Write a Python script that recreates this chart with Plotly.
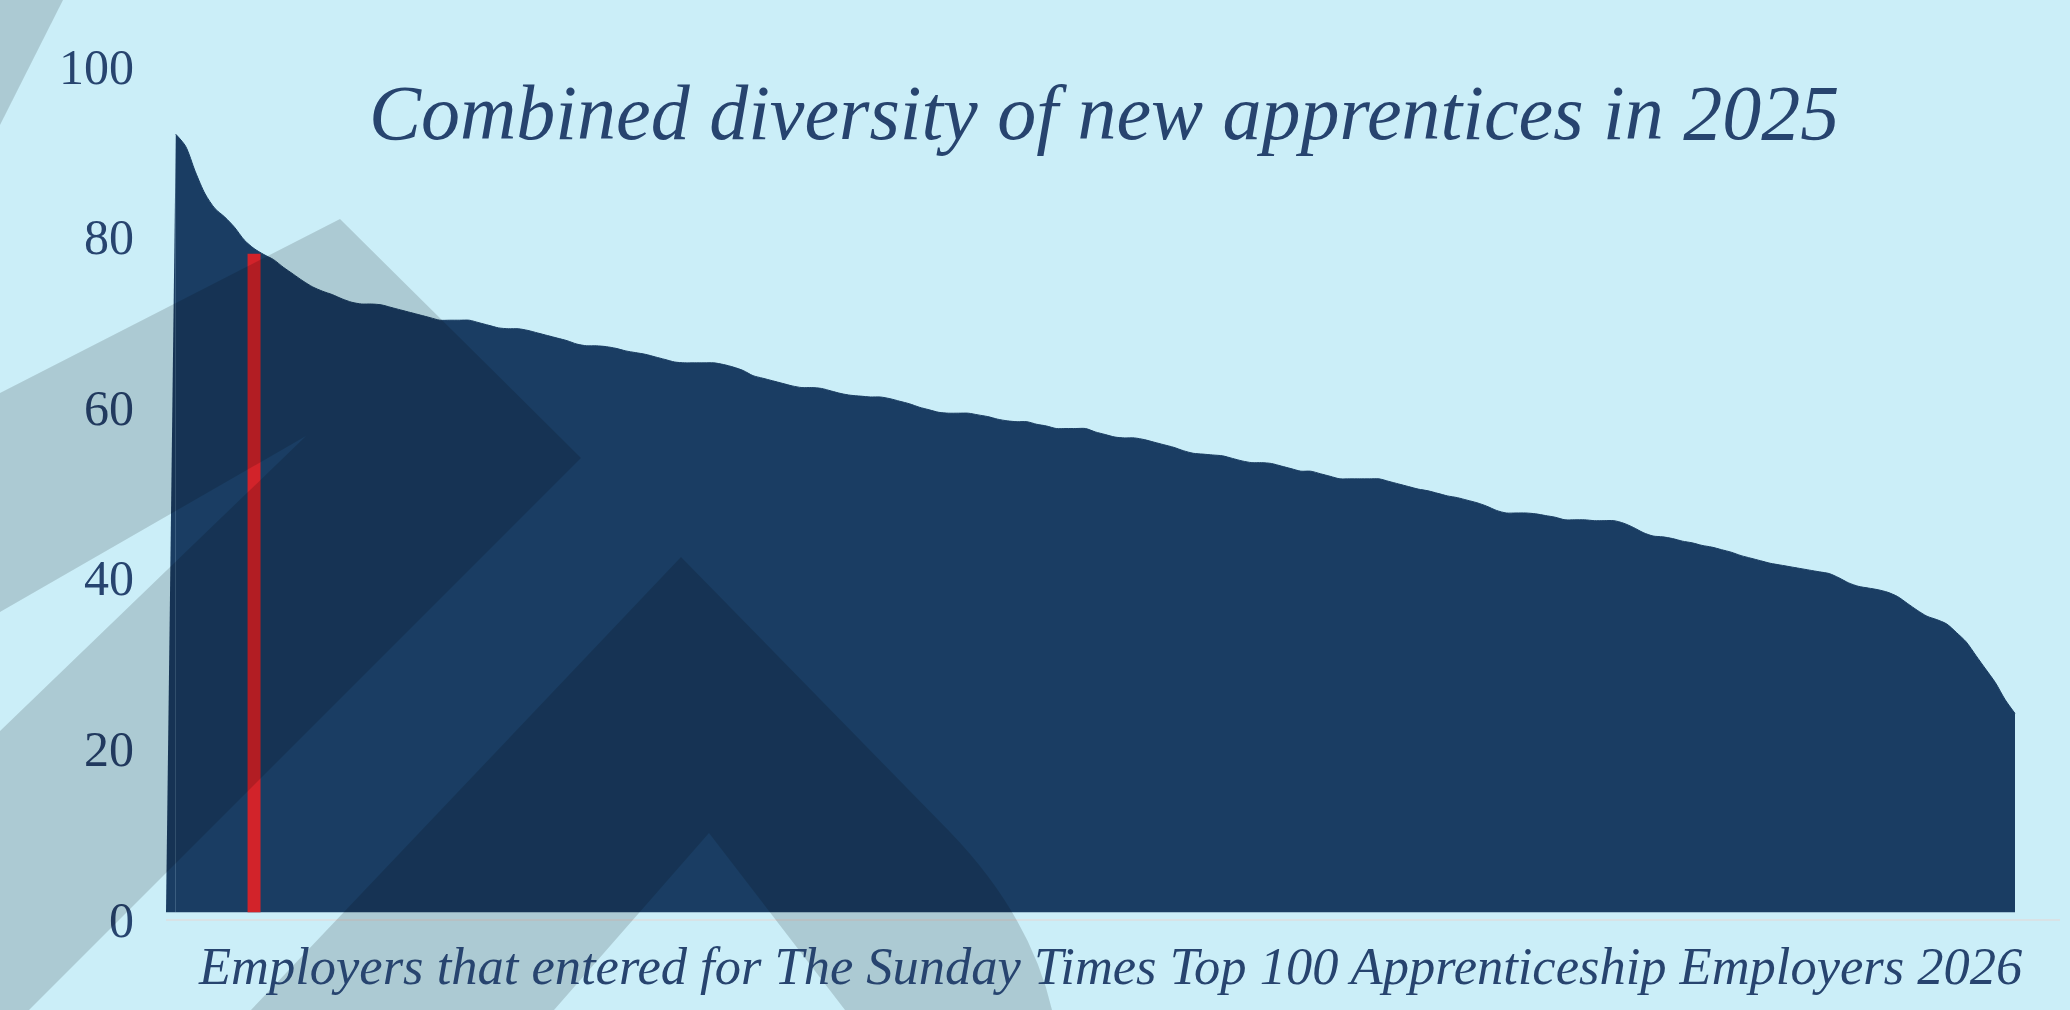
import plotly.graph_objects as go

# ---------------- data ----------------
SCORES = [
    92.0, 90.6, 87.6, 85.0, 83.3, 82.3, 81.1, 79.6, 78.6, 77.9,
    77.3, 76.4, 75.6, 74.8, 74.1, 73.6, 73.2, 72.7, 72.3, 72.1,
    72.1, 72.0, 71.7, 71.4, 71.1, 70.8, 70.5, 70.2, 70.2, 70.2,
    70.2, 69.9, 69.6, 69.3, 69.2, 69.2, 69.0, 68.7, 68.4, 68.1,
    67.8, 67.4, 67.2, 67.2, 67.1, 66.9, 66.6, 66.4, 66.2, 65.9,
    65.6, 65.3, 65.2, 65.2, 65.2, 65.2, 65.0, 64.7, 64.3, 63.7,
    63.4, 63.1, 62.8, 62.5, 62.3, 62.3, 62.2, 61.9, 61.6, 61.4,
    61.3, 61.2, 61.2, 61.0, 60.7, 60.4, 60.0, 59.7, 59.4, 59.3,
    59.3, 59.3, 59.1, 58.9, 58.6, 58.4, 58.3, 58.3, 58.0, 57.8,
    57.5, 57.5, 57.5, 57.5, 57.1, 56.8, 56.5, 56.4, 56.4, 56.2,
    55.9, 55.6, 55.3, 54.9, 54.6, 54.5, 54.4, 54.3, 54.0, 53.7,
    53.5, 53.5, 53.4, 53.1, 52.8, 52.5, 52.5, 52.2, 51.9, 51.6,
    51.6, 51.6, 51.6, 51.6, 51.3, 51.0, 50.7, 50.4, 50.2, 49.9,
    49.6, 49.4, 49.1, 48.8, 48.4, 47.9, 47.6, 47.6, 47.6, 47.5,
    47.3, 47.1, 46.8, 46.8, 46.8, 46.7, 46.7, 46.7, 46.4, 45.9,
    45.3, 44.9, 44.8, 44.6, 44.3, 44.1, 43.8, 43.6, 43.3, 43.0,
    42.6, 42.3, 42.0, 41.7, 41.5, 41.3, 41.1, 40.9, 40.7, 40.5,
    40.0, 39.4, 39.0, 38.8, 38.6, 38.3, 37.8, 37.0, 36.2, 35.5,
    35.1, 34.6, 33.6, 32.5, 30.9, 29.3, 27.7, 25.7, 24.1,
]
AREA_FLOOR = 0.8          # the filled area sits just above the zero line
HIGHLIGHT_INDEX = 8       # highlighted employer (red bar)
HIGHLIGHT_SCORE = 78
Y_TICKS = [0, 20, 40, 60, 80, 100]
Y_TICK_LABELS = ["0", "20", "40", "60", "80", "100"]
TITLE = "Combined diversity of new apprentices in 2025"
X_TITLE = "Employers that entered for The Sunday Times Top 100 Apprenticeship Employers 2026"

# ---------------- style ----------------
W, H = 2070, 1010
ML, MR, MT, MB = 166, 10, 40, 91
PW, PH = W - ML - MR, H - MT - MB
BG = "#cbeef8"
NAVY = "#1a3d63"
RED = "#d2232a"
TEXT = "#27446f"
OVERLAY = "rgba(0,0,0,0.15)"
SERIF = "Liberation Serif"


def px(x, y):
    return (x - ML) / PW, (H - MB - y) / PH


def poly(points):
    parts = []
    for i, p in enumerate(points):
        if p[0] == "Q":
            c = px(*p[1]); e = px(*p[2])
            parts.append(f"Q{c[0]:.5f},{c[1]:.5f} {e[0]:.5f},{e[1]:.5f}")
        else:
            q = px(*p)
            parts.append(("M" if i == 0 else "L") + f"{q[0]:.5f},{q[1]:.5f}")
    return " ".join(parts) + " Z"


# decorative chevrons (pixel outlines)
DECOR = [
    [(0, 0), (63, 0), (0, 125)],
    [(0, 393), (340, 219), (581, 458), (29, 1010), (0, 1010), (0, 731), (306, 436), (0, 612)],
    [(251, 1010), (681, 557), (950, 832), ("Q", (1030, 915), (1052, 1010)), (845, 1010),
     (709, 833), (554, 1010)],
]

n = len(SCORES)
xs = list(range(n))

fig = go.Figure()
# floor + lead-in segment
fig.add_trace(go.Scatter(x=[-1, 0], y=[AREA_FLOOR, AREA_FLOOR], mode="lines",
                         line=dict(width=0, color=NAVY), hoverinfo="skip", showlegend=False))
fig.add_trace(go.Scatter(x=[-1, 0], y=[AREA_FLOOR, SCORES[0]], mode="lines", fill="tonexty",
                         line=dict(color=NAVY, width=0), fillcolor=NAVY,
                         hoverinfo="skip", showlegend=False))
# floor + main area
fig.add_trace(go.Scatter(x=[0, n - 1], y=[AREA_FLOOR, AREA_FLOOR], mode="lines",
                         line=dict(width=0, color=NAVY), hoverinfo="skip", showlegend=False))
fig.add_trace(go.Scatter(
    x=xs, y=SCORES, mode="lines", fill="tonexty",
    line=dict(color=NAVY, width=1, shape="spline", smoothing=0.8),
    fillcolor=NAVY, showlegend=False))
# highlighted employer
fig.add_trace(go.Scatter(
    x=[HIGHLIGHT_INDEX, HIGHLIGHT_INDEX], y=[AREA_FLOOR, HIGHLIGHT_SCORE], mode="lines",
    line=dict(color=RED, width=13), showlegend=False))

shapes = [dict(type="path", xref="paper", yref="paper", path=poly(p),
               fillcolor=OVERLAY, line=dict(width=0), layer="above") for p in DECOR]

tx, ty = px(1104, 112)
ax, ay = px(1110, 966)

fig.update_layout(
    width=W, height=H,
    margin=dict(l=ML, r=MR, t=MT, b=MB, pad=0),
    paper_bgcolor=BG, plot_bgcolor=BG,
    showlegend=False,
    xaxis=dict(range=[-1, 192.6], showgrid=False, zeroline=False, showticklabels=False,
               showline=True, linecolor="#d8e2e6", linewidth=2, ticks=""),
    yaxis=dict(range=[0, 103.05], showgrid=False, zeroline=False, showline=False,
               tickvals=Y_TICKS, ticktext=Y_TICK_LABELS, ticks="",
               tickfont=dict(family=SERIF, size=50, color=TEXT),
               ticklabelstandoff=31),
    shapes=shapes,
    annotations=[
        dict(text=TITLE, xref="paper", yref="paper", x=tx, y=ty, xanchor="center",
             yanchor="middle", showarrow=False,
             font=dict(family=SERIF, size=78, color=TEXT, style="italic")),
        dict(text=X_TITLE, xref="paper", yref="paper", x=ax, y=ay, xanchor="center",
             yanchor="middle", showarrow=False,
             font=dict(family=SERIF, size=52.5, color=TEXT, style="italic")),
    ],
)

fig.write_html("out.html", config={"displayModeBar": False},
               post_script="document.body.style.margin='0';document.body.style.overflow='hidden';")
